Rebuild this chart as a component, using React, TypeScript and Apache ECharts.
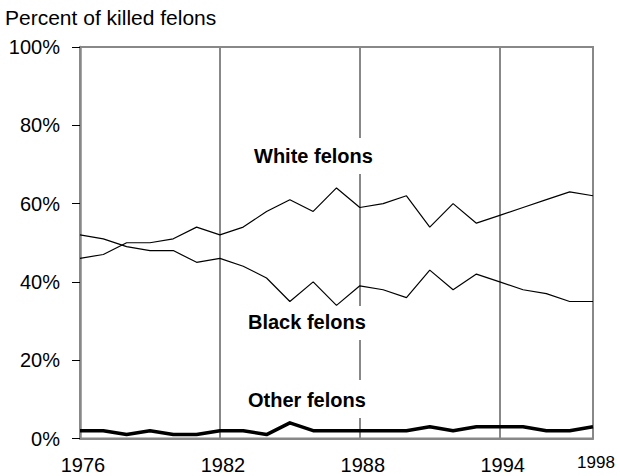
import React, { useEffect, useRef } from "react";
import * as echarts from "echarts";

const years = [
  "1976", "1977", "1978", "1979", "1980", "1981", "1982", "1983", "1984", "1985", "1986", "1987",
  "1988", "1989", "1990", "1991", "1992", "1993", "1994", "1995", "1996", "1997", "1998",
];
const whiteFelons = [46, 47, 50, 50, 51, 54, 52, 54, 58, 61, 58, 64, 59, 60, 62, 54, 60, 55, 57, 59, 61, 63, 62];
const blackFelons = [52, 51, 49, 48, 48, 45, 46, 44, 41, 35, 40, 34, 39, 38, 36, 43, 38, 42, 40, 38, 37, 35, 35];
const otherFelons = [2, 2, 1, 2, 1, 1, 2, 2, 1, 4, 2, 2, 2, 2, 2, 3, 2, 3, 3, 3, 2, 2, 3];
const xTickLabels = ["1976", "1982", "1988", "1994", "1998"];
const seriesLabels = ["White felons", "Black felons", "Other felons"];
const titleText = "Percent of killed felons";

const FONT = "'Liberation Sans', Arial, Helvetica, sans-serif";

export default function App() {
  const ref = useRef<HTMLDivElement>(null);
  useEffect(() => {
    if (!ref.current) return;
    const chart = echarts.init(ref.current, null, { renderer: "svg" });
    const showIdx = (i: number) => xTickLabels.includes(years[i]);
    chart.setOption({
      animation: false,
      backgroundColor: "#fff",
      textStyle: { fontFamily: FONT },
      title: {
        text: titleText,
        left: 5,
        top: 7,
        padding: 0,
        textStyle: { fontSize: 21, fontWeight: "normal", color: "#000", fontFamily: FONT },
      },
      grid: {
        left: 80,
        right: 27,
        top: 47,
        bottom: 37.5,
        containLabel: false,
        outerBoundsMode: "none",
        show: true,
        borderColor: "#888",
        borderWidth: 2,
        backgroundColor: "transparent",
      },
      xAxis: {
        type: "category",
        data: years,
        boundaryGap: false,
        axisLine: { show: true, lineStyle: { color: "#888", width: 2 } },
        axisTick: { show: false },
        splitLine: {
          show: true,
          interval: (i: number) => showIdx(i),
          lineStyle: { color: "#888", width: 2 },
        },
        axisLabel: {
          interval: (i: number) => showIdx(i),
          margin: 19,
          padding: [0, 0, 0, 6],
          fontSize: 20,
          lineHeight: 14,
          color: "#000",
          fontFamily: FONT,
          formatter: (v: string) => (v === "1998" ? "{s|" + v + "}" : v),
          rich: {
            s: { fontSize: 17, lineHeight: 9, color: "#000", fontFamily: FONT },
          },
        },
      },
      yAxis: {
        type: "value",
        min: 0,
        max: 100,
        interval: 20,
        axisLine: { show: true, lineStyle: { color: "#888", width: 2.5 } },
        axisTick: { show: true, length: 8, lineStyle: { color: "#000", width: 1 } },
        splitLine: { show: false },
        axisLabel: {
          formatter: "{value}%",
          margin: 20,
          fontSize: 20,
          color: "#000",
          fontFamily: FONT,
        },
      },
      series: [
        {
          name: seriesLabels[0],
          type: "line",
          data: whiteFelons,
          symbol: "none",
          lineStyle: { color: "#000", width: 1.2 },
          z: 5,
        },
        {
          name: seriesLabels[1],
          type: "line",
          data: blackFelons,
          symbol: "none",
          lineStyle: { color: "#000", width: 1.2 },
          z: 5,
        },
        {
          name: seriesLabels[2],
          type: "line",
          data: otherFelons,
          symbol: "none",
          lineStyle: { color: "#000", width: 3.5, join: "round" },
          z: 5,
        },
      ],
      graphic: [
        {
          type: "text",
          left: 252,
          top: 138,
          z: 100,
          style: {
            text: seriesLabels[0],
            font: "bold 20px " + FONT,
            fill: "#000",
            backgroundColor: "#fff",
            padding: [8, 2, 8, 2],
          },
        },
        {
          type: "text",
          left: 246,
          top: 306,
          z: 100,
          style: {
            text: seriesLabels[1],
            font: "bold 20px " + FONT,
            fill: "#000",
            backgroundColor: "#fff",
            padding: [6, 2, 8, 2],
          },
        },
        {
          type: "text",
          left: 246,
          top: 380,
          z: 100,
          style: {
            text: seriesLabels[2],
            font: "bold 20px " + FONT,
            fill: "#000",
            backgroundColor: "#fff",
            padding: [10, 2, 8, 2],
          },
        },
      ],
    });
    return () => chart.dispose();
  }, []);
  return <div ref={ref} style={{ width: 620, height: 476, position: "absolute", left: 0, top: 0 }} />;
}
